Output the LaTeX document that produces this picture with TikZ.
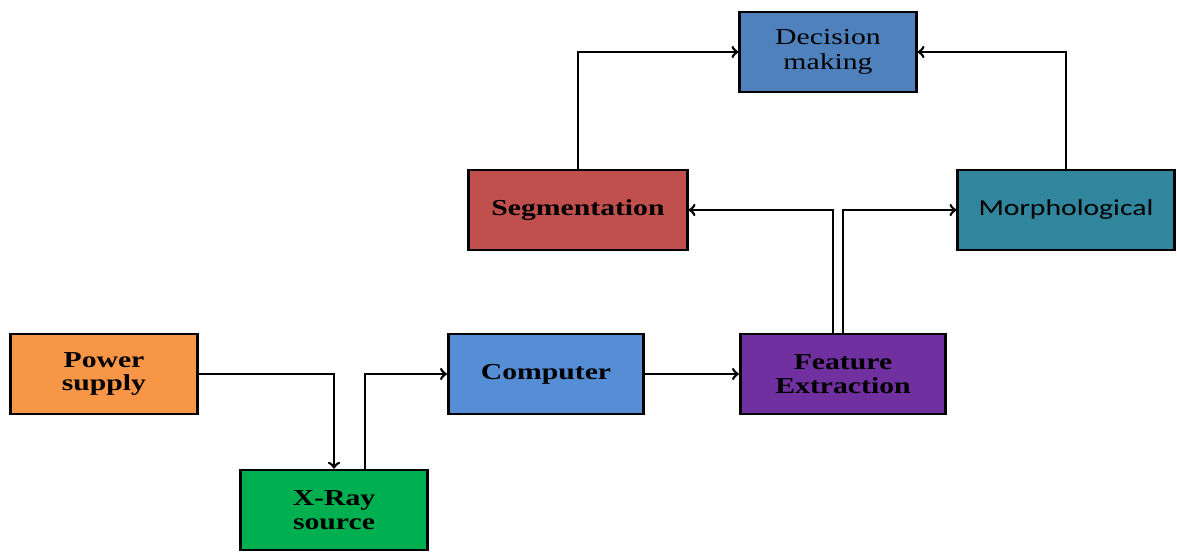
\documentclass[tikz,border=0pt]{standalone}
\usepackage{fontspec}
\usepackage{tikz}
\usepackage{color}
\newfontfamily\blockserif{Liberation Serif}[FakeStretch=1.3]
\newfontfamily\blocksans{Carlito}[FakeStretch=1.3]

\begin{document}
\begin{tikzpicture}
		[x=0.02cm,y=-0.02cm,line cap=round,
		%Styles
		block/.style={draw=black,line width=1.5pt,minimum height=1.6cm,align=center,
			inner sep=2pt,font=\blockserif\bfseries\fontsize{13}{13.5}\selectfont},
		plain block/.style={block,font=\blockserif\fontsize{13}{14}\selectfont},
		link/.style={line width=1.5pt,->}
		]
		
		%Colors
		\definecolor{powercolor}{HTML}{F79646}
		\definecolor{xraycolor}{HTML}{00B050}
		\definecolor{computercolor}{HTML}{558ED5}
		\definecolor{featurecolor}{HTML}{7030A0}
		\definecolor{segcolor}{HTML}{C0504D}
		\definecolor{morphcolor}{HTML}{31859C}
		\definecolor{decisioncolor}{HTML}{4F81BD}
		
		\useasboundingbox (0,0) rectangle (1177,553);
		
		%The graphic
		\node[block,fill=powercolor,minimum width=3.73cm] (power) at (104,374) {Power\\supply};
		\node[block,fill=xraycolor,minimum width=3.73cm] (xray) at (334,510) {X-Ray\\source};
		\node[block,fill=computercolor,minimum width=3.91cm] (computer) at (546,374) {Computer};
		\node[block,fill=featurecolor,minimum width=4.11cm] (feature) at (843,374) {Feature\\Extraction};
		\node[block,fill=segcolor,minimum width=4.37cm] (seg) at (578,210) {Segmentation};
		\node[block,fill=morphcolor,minimum width=4.33cm,font=\blocksans\fontsize{13}{14}\selectfont] (morph) at (1066,210) {Morphological};
		\node[plain block,fill=decisioncolor,minimum width=3.53cm] (decision) at (828,52) {Decision\\making};
		
		\draw[link] (power.east) -| (xray.north);
		\draw[link] ([xshift=0.62cm]xray.north) |- (computer.west);
		\draw[link] (computer.east) -- (feature.west);
		\draw[link] ([xshift=-0.2cm]feature.north) |- (seg.east);
		\draw[link] (feature.north) |- (morph.west);
		\draw[link] (seg.north) |- (decision.west);
		\draw[link] (morph.north) |- (decision.east);
	\end{tikzpicture}
\end{document}
